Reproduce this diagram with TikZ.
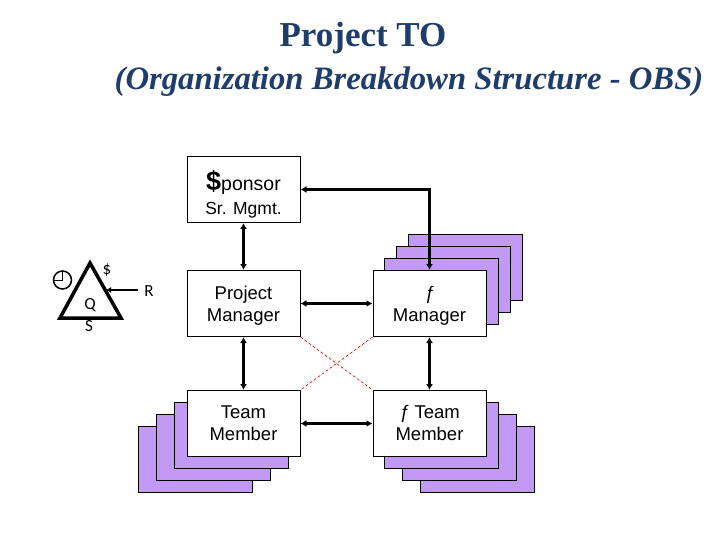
\documentclass[tikz,border=0pt]{standalone}
\usepackage{fontspec}
\setmainfont{Liberation Serif}
\setsansfont{Liberation Sans}
\newfontfamily\labelfont{Carlito}
\usetikzlibrary{arrows.meta}
\definecolor{stackpurple}{HTML}{C299F5}
\definecolor{titleblue}{HTML}{1F3D6B}
\tikzset{
    rolebox/.style={draw,fill=white,line width=1pt,minimum width=113pt,minimum height=66pt,inner sep=0pt,align=center,font=\sffamily\fontsize{18.5}{22}\selectfont},
    stackbox/.style={draw,fill=stackpurple,line width=1pt,minimum width=114pt,minimum height=66pt,inner sep=0pt},
    link/.style={line width=2.4pt,{Latex[length=6pt,width=7pt]}-{Latex[length=6pt,width=7pt]}},
    crossline/.style={red!80!black,densely dashed,line width=0.6pt},
    iron/.style={font=\labelfont\fontsize{17}{17}\selectfont,inner sep=0pt}
}
\begin{document}
\begin{tikzpicture}[x=1pt,y=-1pt]
    \useasboundingbox (0,0) rectangle (720,540);

    \node[font=\bfseries\fontsize{35}{35}\selectfont,text=titleblue] (title) at (363,38) {Project TO};
    \node[font=\bfseries\itshape\fontsize{32.7}{33}\selectfont,text=titleblue] (subtitle) at (409,82) {(Organization Breakdown Structure - OBS)};

    % stacks
    \node[stackbox] (fm3) at (465,267) {};
    \node[stackbox] (fm2) at (453,279) {};
    \node[stackbox] (fm1) at (441,291) {};

    \node[stackbox] (tm3) at (195,459) {};
    \node[stackbox] (tm2) at (213,447) {};
    \node[stackbox] (tm1) at (231,435) {};

    \node[stackbox] (ftm3) at (477,459) {};
    \node[stackbox] (ftm2) at (459,447) {};
    \node[stackbox] (ftm1) at (441,435) {};

    % boxes
    \node[rolebox] (sponsor) at (243.5,189.5) {\rule{0pt}{30pt}{\bfseries\fontsize{27}{22}\selectfont\$}{\fontsize{19.5}{22}\selectfont ponsor}\\[2pt]{\fontsize{17.5}{22}\selectfont Sr. Mgmt.}};
    \node[rolebox] (pm) at (243.5,303.5) {\rule{0pt}{18.5pt}Project\\Manager};
    \node[rolebox] (fm) at (429.5,303.5) {\rule{0pt}{18.5pt}\textit{ƒ}\\Manager};
    \node[rolebox] (tm) at (243.5,423.5) {Team\\Member};
    \node[rolebox] (ftm) at (429.5,423.5) {\textit{ƒ} Team\\Member};

    % arrows
    \draw[link] (sponsor.south) -- (pm.north);
    \draw[link] (pm.south) -- (tm.north);
    \draw[link] (fm.south) -- (ftm.north);
    \draw[link] (pm.east) -- (fm.west);
    \draw[link] (tm.east) -- (ftm.west);
    \draw[link] (sponsor.east) -| (fm.north);

    % matrix cross
    \draw[crossline] (pm.south east) -- (ftm.north west);
    \draw[crossline] (fm.south west) -- (tm.north east);

    % triangle
    \coordinate (apex) at (90,263);
    \coordinate (left) at (60,318);
    \coordinate (right) at (121,318);
    \coordinate (side) at (106,290);
    \draw[line width=3.5pt,line join=miter] (apex) -- (left) -- (right) -- cycle;
    \node[iron] (dollar) at (107,270) {\$};
    \node[iron] (quality) at (90,305) {Q};
    \node[iron] (scope) at (89,326) {S};
    \node[iron] (risk) at (149,291) {R};
    \coordinate (riskend) at (138,290);
    \draw[line width=1.6pt,-{Latex[length=5pt,width=6pt]}] (riskend) -- (side);
    \node[draw,circle,line width=1.5pt,minimum size=18pt,inner sep=0pt] (clock) at (62.5,280) {};
    \draw[line width=0.9pt] (clock.north) -- (clock.center) -- (clock.west);
\end{tikzpicture}
\end{document}
